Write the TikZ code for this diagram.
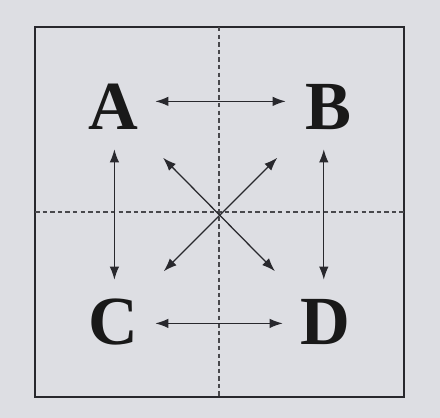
\documentclass[tikz,border=0pt]{standalone}
\usepackage{fontspec}
\setmainfont{Liberation Serif}
\usepackage{xcolor}
\usetikzlibrary{arrows.meta,positioning}
\definecolor{pagegray}{RGB}{221,222,227}
\definecolor{inkgray}{RGB}{40,40,45}

\begin{document}
\begin{tikzpicture}[
    x=0.025cm, y=-0.025cm,
    >={Latex[length=0.33cm,width=0.24cm]},
    letter/.style={shape=rectangle, inner sep=0pt, minimum size=2.1cm,
        font=\fontsize{49}{49}\selectfont\bfseries, text=black!90},
    link/.style={<->, line width=0.9pt, draw=inkgray},
    diaglink/.style={link, shorten <=0.3cm, shorten >=0.3cm},
    frame/.style={draw=inkgray, line width=1.1pt},
    axis/.style={draw=inkgray!85, line width=0.9pt, dash pattern=on 3.2pt off 2.2pt},
]
\fill[pagegray] (0,0) rectangle (440,418);
\useasboundingbox (0,0) rectangle (440,418);

% frame and dashed cross
\draw[frame] (35,27) rectangle (404,397);
\draw[axis] (219,27) -- (219,397);
\draw[axis] (35,212) -- (404,212);

\node[letter] (A) at (113,107) {A};
\node[letter] (B) at (328,107) {B};
\node[letter] (C) at (113,322) {C};
\node[letter] (D) at (325,322) {D};

\draw[link] ([yshift=4pt]A.east) -- ([yshift=4pt]B.west);
\draw[link] ([yshift=-1pt]C.east) -- ([yshift=-1pt]D.west);
\draw[link] ([xshift=1pt]A.south) -- ([xshift=1pt]C.north);
\draw[link] ([xshift=-3pt]B.south) -- ([xshift=-3pt]B.south |- D.north);

\draw[diaglink] (A) -- (D);
\draw[diaglink] (C) -- (B);
\end{tikzpicture}
\end{document}
